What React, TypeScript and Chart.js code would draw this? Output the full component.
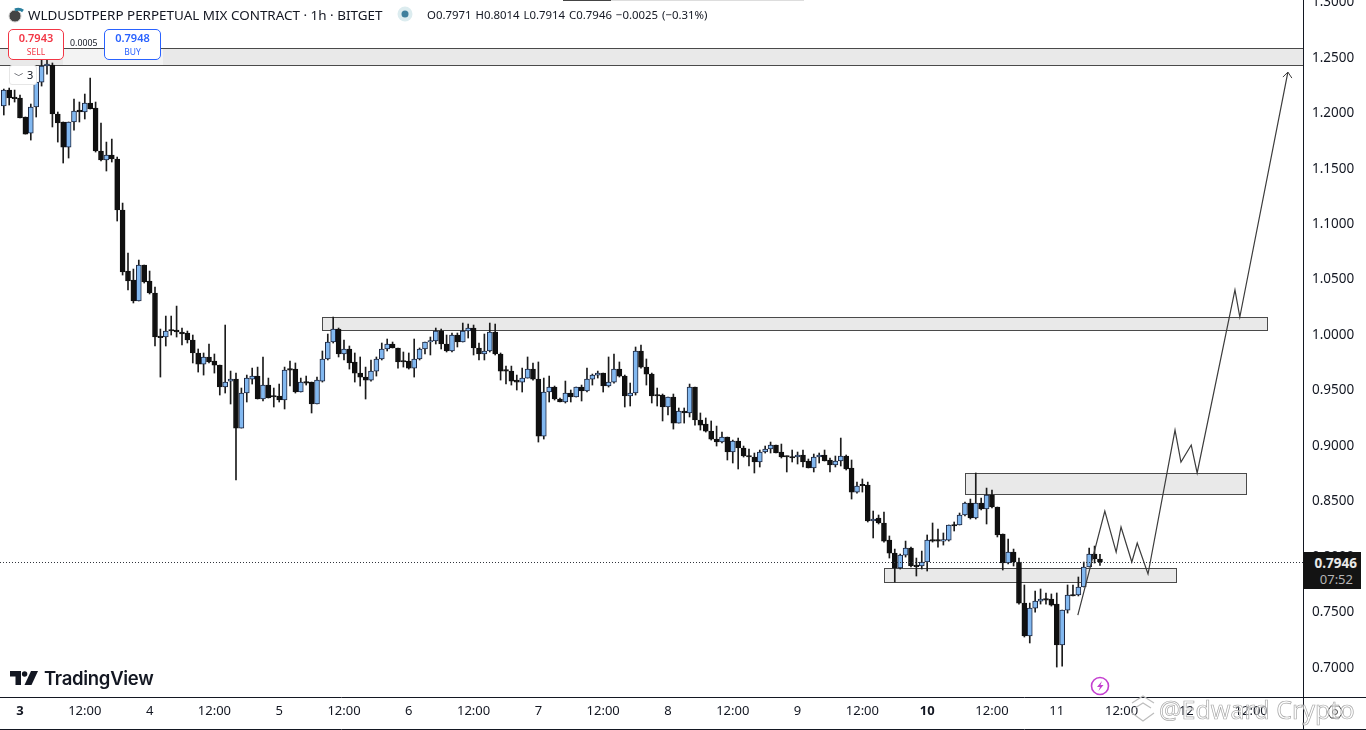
import React, { useEffect, useRef } from "react";
import { Chart, registerables } from "chart.js";

Chart.register(...registerables);

const opens = [
1.2056,1.2200,1.2133,1.2128,1.1957,1.1812,1.2047,1.2272,1.2417,1.2426,
1.1984,1.1912,1.1686,1.1912,1.2020,1.2002,1.2083,1.2038,1.1650,1.1569,
1.1614,1.1578,1.1118,1.0568,1.0487,1.0298,1.0622,1.0478,1.0370,0.9973,
0.9973,1.0036,1.0036,1.0018,1.0009,0.9946,0.9829,0.9729,0.9793,0.9757,
0.9720,0.9522,0.9576,0.9594,0.9152,0.9468,0.9594,0.9621,0.9414,0.9540,
0.9441,0.9441,0.9405,0.9684,0.9684,0.9477,0.9567,0.9567,0.9369,0.9576,
0.9775,0.9928,1.0045,0.9820,0.9865,0.9748,0.9648,0.9612,0.9585,0.9666,
0.9775,0.9865,0.9910,0.9874,0.9757,0.9757,0.9693,0.9775,0.9865,0.9928,
0.9937,1.0027,0.9910,0.9847,0.9991,0.9928,1.0027,1.0054,0.9874,0.9820,
0.9847,1.0018,0.9820,0.9675,0.9666,0.9585,0.9567,0.9603,0.9684,0.9594,
0.9080,0.9477,0.9522,0.9414,0.9387,0.9468,0.9432,0.9522,0.9486,0.9594,
0.9630,0.9648,0.9531,0.9567,0.9684,0.9621,0.9441,0.9468,0.9847,0.9702,
0.9639,0.9450,0.9450,0.9342,0.9432,0.9197,0.9306,0.9288,0.9522,0.9225,
0.9188,0.9125,0.9053,0.9026,0.9071,0.8936,0.9035,0.8972,0.8900,0.8891,
0.8846,0.8936,0.8963,0.8999,0.8936,0.8900,0.8891,0.8891,0.8909,0.8855,
0.8792,0.8891,0.8909,0.8864,0.8819,0.8855,0.8900,0.8792,0.8575,0.8638,
0.8638,0.8314,0.8341,0.8296,0.8142,0.8025,0.7890,0.8007,0.8070,0.7908,
0.7908,0.7944,0.8142,0.8142,0.8133,0.8142,0.8278,0.8278,0.8368,0.8476,
0.8341,0.8476,0.8422,0.8548,0.8440,0.8197,0.7935,0.8034,0.7944,0.7574,
0.7277,0.7529,0.7592,0.7610,0.7610,0.7565,0.7196,0.7511,0.7647,0.7647,
0.7719,0.7899,0.8016,0.7971,
];

const highs = [
1.2209,1.2218,1.2200,1.2155,1.1957,1.2074,1.2290,1.2489,1.2498,1.2444,
1.2002,1.1912,1.1912,1.2119,1.2092,1.2164,1.2308,1.2092,1.1903,1.1731,
1.1758,1.1596,1.1181,1.0730,1.0586,1.0667,1.0622,1.0568,1.0424,1.0045,
1.0162,1.0162,1.0252,1.0054,1.0027,0.9991,0.9865,0.9829,0.9910,0.9820,
0.9720,1.0081,0.9666,0.9648,0.9513,0.9630,0.9693,0.9702,0.9793,0.9603,
0.9513,0.9549,0.9702,0.9757,0.9739,0.9603,0.9621,0.9567,0.9612,0.9847,
1.0000,1.0153,1.0054,0.9946,0.9892,0.9829,0.9793,0.9702,0.9766,0.9793,
0.9919,0.9955,0.9928,0.9874,0.9838,0.9829,0.9955,0.9874,0.9928,0.9973,
1.0054,1.0045,0.9991,1.0009,1.0009,1.0099,1.0090,1.0081,0.9919,1.0000,
1.0099,1.0090,0.9829,0.9711,0.9711,0.9630,0.9693,0.9793,0.9739,0.9748,
0.9603,0.9621,0.9531,0.9423,0.9576,0.9495,0.9522,0.9540,0.9693,0.9639,
0.9666,0.9648,0.9793,0.9820,0.9748,0.9630,0.9558,0.9883,0.9901,0.9775,
0.9648,0.9513,0.9459,0.9432,0.9459,0.9333,0.9333,0.9549,0.9522,0.9288,
0.9243,0.9216,0.9170,0.9116,0.9071,0.9044,0.9062,0.8990,0.8963,0.8927,
0.8954,0.8990,0.9026,0.8999,0.9008,0.8900,0.8954,0.8936,0.8954,0.8873,
0.8918,0.8927,0.8954,0.8882,0.8900,0.9062,0.8909,0.8864,0.8665,0.8693,
0.8665,0.8404,0.8368,0.8395,0.8179,0.8061,0.8016,0.8133,0.8079,0.7980,
0.8043,0.8188,0.8296,0.8242,0.8206,0.8278,0.8305,0.8386,0.8485,0.8512,
0.8747,0.8521,0.8611,0.8593,0.8440,0.8197,0.8152,0.8061,0.7980,0.7737,
0.7574,0.7683,0.7701,0.7665,0.7656,0.7665,0.7511,0.7737,0.7737,0.7809,
0.7944,0.8070,0.8088,0.8014,
];

const lows = [
1.1975,1.2065,1.2092,1.1948,1.1803,1.1749,1.1957,1.2236,1.2344,1.1867,
1.1731,1.1542,1.1587,1.1839,1.1912,1.1939,1.2029,1.1641,1.1560,1.1470,
1.1551,1.1019,1.0532,1.0397,1.0280,1.0298,1.0460,1.0361,0.9892,0.9612,
0.9892,0.9991,0.9973,0.9901,0.9919,0.9739,0.9657,0.9630,0.9739,0.9648,
0.9450,0.9468,0.9369,0.8684,0.9152,0.9387,0.9549,0.9414,0.9396,0.9423,
0.9342,0.9387,0.9324,0.9531,0.9468,0.9477,0.9540,0.9288,0.9369,0.9567,
0.9766,0.9919,0.9793,0.9766,0.9684,0.9567,0.9531,0.9414,0.9576,0.9621,
0.9766,0.9847,0.9874,0.9693,0.9702,0.9684,0.9612,0.9766,0.9820,0.9811,
0.9910,0.9865,0.9838,0.9838,0.9883,0.9928,0.9964,0.9811,0.9766,0.9766,
0.9838,0.9811,0.9585,0.9549,0.9540,0.9495,0.9477,0.9603,0.9585,0.9026,
0.9053,0.9387,0.9405,0.9387,0.9378,0.9387,0.9432,0.9396,0.9477,0.9540,
0.9603,0.9477,0.9522,0.9558,0.9612,0.9342,0.9351,0.9450,0.9693,0.9540,
0.9378,0.9351,0.9216,0.9270,0.9143,0.9197,0.9197,0.9252,0.9179,0.9134,
0.9116,0.9044,0.8990,0.9017,0.8864,0.8837,0.8783,0.8891,0.8810,0.8747,
0.8801,0.8927,0.8927,0.8927,0.8882,0.8756,0.8846,0.8828,0.8801,0.8792,
0.8756,0.8837,0.8855,0.8756,0.8801,0.8810,0.8774,0.8512,0.8566,0.8575,
0.8305,0.8161,0.8287,0.8124,0.7980,0.7764,0.7881,0.7989,0.7899,0.7818,
0.7881,0.7863,0.8124,0.8079,0.8097,0.8133,0.8224,0.8278,0.8359,0.8332,
0.8332,0.8413,0.8287,0.8431,0.8170,0.7872,0.7926,0.7908,0.7565,0.7268,
0.7214,0.7493,0.7565,0.7565,0.7547,0.6997,0.7006,0.7484,0.7638,0.7638,
0.7719,0.7899,0.7935,0.7914,
];

const closes = [
1.2200,1.2128,1.2122,1.1948,1.1803,1.2047,1.2272,1.2417,1.2435,1.1984,
1.1903,1.1686,1.1912,1.2011,1.2002,1.2083,1.2029,1.1650,1.1569,1.1614,
1.1578,1.1118,1.0559,1.0478,1.0298,1.0622,1.0469,1.0370,0.9973,0.9968,
1.0027,1.0027,1.0018,1.0000,0.9946,0.9829,0.9729,0.9793,0.9748,0.9720,
0.9522,0.9567,0.9594,0.9152,0.9468,0.9603,0.9621,0.9414,0.9540,0.9423,
0.9432,0.9405,0.9675,0.9675,0.9477,0.9567,0.9558,0.9369,0.9585,0.9775,
0.9928,1.0045,0.9820,0.9865,0.9739,0.9648,0.9612,0.9585,0.9666,0.9775,
0.9865,0.9910,0.9874,0.9748,0.9748,0.9693,0.9775,0.9865,0.9928,0.9937,
1.0027,0.9910,0.9847,0.9991,0.9928,1.0027,1.0054,0.9874,0.9820,0.9847,
1.0018,0.9820,0.9666,0.9666,0.9576,0.9567,0.9603,0.9684,0.9594,0.9080,
0.9477,0.9522,0.9414,0.9387,0.9468,0.9432,0.9522,0.9486,0.9594,0.9630,
0.9648,0.9531,0.9567,0.9684,0.9621,0.9441,0.9468,0.9847,0.9702,0.9639,
0.9441,0.9441,0.9342,0.9432,0.9197,0.9306,0.9288,0.9522,0.9225,0.9179,
0.9125,0.9053,0.9026,0.9071,0.8936,0.9035,0.8972,0.8900,0.8891,0.8846,
0.8936,0.8963,0.8999,0.8927,0.8891,0.8891,0.8882,0.8909,0.8846,0.8792,
0.8891,0.8909,0.8855,0.8819,0.8855,0.8900,0.8783,0.8575,0.8629,0.8632,
0.8314,0.8332,0.8296,0.8133,0.8025,0.7890,0.8007,0.8070,0.7908,0.7902,
0.7944,0.8142,0.8133,0.8133,0.8142,0.8278,0.8269,0.8368,0.8476,0.8341,
0.8476,0.8422,0.8548,0.8440,0.8188,0.7935,0.8034,0.7944,0.7574,0.7277,
0.7529,0.7592,0.7610,0.7601,0.7556,0.7196,0.7511,0.7647,0.7638,0.7719,
0.7899,0.8016,0.7971,0.7946,
];

const firstHour = -3;
const lastPrice = 0.7946;

const priceTicks = [1.3, 1.25, 1.2, 1.15, 1.1, 1.05, 1.0, 0.95, 0.9, 0.85, 0.8, 0.75, 0.7];
const timeLabels = ["3","12:00","4","12:00","5","12:00","6","12:00","7","12:00","8","12:00","9","12:00","10","12:00","11","12:00","12","12:00"];
const boldTimeLabels = ["3", "10"];

const zoneStart = [-5, 55.9, 175, 160];
const zoneEnd = [237.6, 230.9, 227, 214];
const zoneHigh = [1.2579, 1.0153, 0.8747, 0.789];
const zoneLow = [1.2426, 1.0036, 0.8557, 0.7764];

const pathHours = [195.9, 200.9, 203, 203.9, 205.9, 206.9, 208.9, 213.9, 215, 216.9, 218, 225, 225.9, 234.8];
const pathPrices = [0.7466, 0.8404, 0.8034, 0.826, 0.7944, 0.8115, 0.7836, 0.9134, 0.8846, 0.8999, 0.8747, 1.0397, 1.0153, 1.2362];

const fontFamily = "'Noto Sans', 'Open Sans', sans-serif";
const ink = "#131722";

const hourOf = (i: number) => firstHour + i;

const overlayPlugin = {
  id: "overlay",
  beforeDatasetsDraw(chart: any) {
    const { ctx, scales } = chart;
    const { x, y } = scales;
    ctx.save();
    zoneStart.forEach((s, i) => {
      const l = Math.round(x.getPixelForValue(s)) + 0.5;
      const r = Math.round(x.getPixelForValue(zoneEnd[i])) + 0.5;
      const t = Math.round(y.getPixelForValue(zoneHigh[i])) + 0.5;
      const b = Math.round(y.getPixelForValue(zoneLow[i])) + 0.5;
      ctx.fillStyle = "#e9e9e9";
      ctx.fillRect(l, t, r - l, b - t);
      ctx.strokeStyle = "#4a4a4a";
      ctx.lineWidth = 1;
      ctx.strokeRect(l, t, r - l, b - t);
    });
    ctx.restore();
  },
  afterDatasetsDraw(chart: any) {
    const { ctx, scales, chartArea, width } = chart;
    const { x, y } = scales;
    ctx.save();
    const py = Math.round(y.getPixelForValue(lastPrice)) + 0.5;
    ctx.strokeStyle = "#30343c";
    ctx.lineWidth = 1;
    ctx.setLineDash([1, 2]);
    ctx.beginPath();
    ctx.moveTo(chartArea.left, py);
    ctx.lineTo(chartArea.right, py);
    ctx.stroke();
    ctx.setLineDash([]);

    // arrow head on the last point of the drawn path
    const n = pathHours.length - 1;
    const tx = x.getPixelForValue(pathHours[n]);
    const ty = y.getPixelForValue(pathPrices[n]);
    ctx.strokeStyle = "#3c3c3c";
    ctx.beginPath();
    ctx.moveTo(tx - 5, ty + 5);
    ctx.lineTo(tx, ty);
    ctx.lineTo(tx + 4, ty + 6);
    ctx.stroke();

    // frame lines that run past the plot area
    ctx.strokeStyle = ink;
    ctx.beginPath();
    ctx.moveTo(0, chartArea.bottom + 0.5);
    ctx.lineTo(width, chartArea.bottom + 0.5);
    ctx.moveTo(0, 729.5);
    ctx.lineTo(width, 729.5);
    ctx.moveTo(chartArea.right + 0.5, 0);
    ctx.lineTo(chartArea.right + 0.5, 730);
    ctx.stroke();
    ctx.restore();
  },
};

function Logo() {
  return (
    <svg width="30" height="16" viewBox="0 0 30 16" style={{ position: "absolute", left: 10, top: 670 }}>
      <path d="M0 1 H11 V15 H5.5 V6.5 H0 Z" fill="#131722" />
      <circle cx="14.6" cy="4" r="2.7" fill="#131722" />
      <path d="M21 1 H28 L21.5 15 H14.5 Z" fill="#131722" />
    </svg>
  );
}

export default function App() {
  const ref = useRef<HTMLCanvasElement>(null);
  useEffect(() => {
    document.body.style.margin = "0";
    const canvas = ref.current!;
    const wicks = lows.map((l, i) => ({ x: hourOf(i), y: [l, highs[i]] }));
    const bodies = opens.map((o, i) => ({ x: hourOf(i), y: [Math.min(o, closes[i]), Math.max(o, closes[i])] }));
    const isUp = (i: number) => closes[i] > opens[i];
    const chart = new Chart(canvas, {
      type: "bar",
      plugins: [overlayPlugin],
      data: {
        datasets: [
          {
            type: "line",
            data: pathHours.map((h, i) => ({ x: h, y: pathPrices[i] })),
            borderColor: "#3c3c3c",
            borderWidth: 1.2,
            pointRadius: 0,
            tension: 0,
            order: 0,
          },
          {
            data: bodies,
            grouped: false,
            barThickness: 5,
            minBarLength: 1.5,
            borderWidth: 1,
            borderSkipped: false,
            backgroundColor: (c: any) => (isUp(c.dataIndex) ? "#82b8f0" : "#101010"),
            borderColor: (c: any) => (isUp(c.dataIndex) ? "#1d2740" : "#101010"),
            order: 1,
          },
          {
            data: wicks,
            grouped: false,
            barThickness: 1,
            backgroundColor: "#1c1c1c",
            order: 2,
          },
        ] as any,
      },
      options: {
        animation: false,
        responsive: false,
        maintainAspectRatio: false,
        devicePixelRatio: 1,
        layout: { padding: 0 },
        plugins: { legend: { display: false }, tooltip: { enabled: false } },
        events: [],
        scales: {
          x: {
            type: "linear",
            offset: false,
            min: -3.7037,
            max: 237.6,
            grid: { display: false, drawTicks: false, offset: false },
            border: { display: false },
            afterFit: (s: any) => { s.height = 33; s.paddingLeft = 0; s.paddingRight = 0; },
            afterBuildTicks: (s: any) => { s.ticks = timeLabels.map((_, i) => ({ value: i * 12 })); },
            ticks: {
              autoSkip: false,
              maxRotation: 0,
              padding: 6,
              color: ink,
              font: (c: any) => ({
                family: fontFamily,
                size: 13,
                weight: boldTimeLabels.includes(timeLabels[c.index]) ? "bold" : "normal",
              }),
              callback: (_v: any, i: number) => timeLabels[i],
            },
          },
          y: {
            position: "right",
            min: 0.6727,
            max: 1.3012,
            grid: { display: false, drawTicks: false },
            border: { display: false },
            afterFit: (s: any) => { s.width = 63; s.paddingTop = 0; s.paddingBottom = 0; },
            afterBuildTicks: (s: any) => { s.ticks = priceTicks.map((value) => ({ value })); },
            ticks: {
              autoSkip: false,
              padding: 9,
              labelOffset: 1,
              color: ink,
              font: { family: fontFamily, size: 13.5 },
              callback: (v: any) => Number(v).toFixed(4),
            },
          },
        },
      } as any,
    });
    return () => chart.destroy();
  }, []);

  const txt: React.CSSProperties = { position: "absolute", fontFamily, whiteSpace: "nowrap", color: ink };
  return (
    <div style={{ position: "absolute", left: 0, top: 0, width: 1366, height: 730, overflow: "hidden", background: "#fff" }}>
      <canvas ref={ref} width={1366} height={730} style={{ position: "absolute", left: 0, top: 0, width: 1366, height: 730 }} />

      <div style={{ position: "absolute", left: 563, top: 0, width: 48, height: 1, background: "#444" }} />
      <div style={{ position: "absolute", left: 611, top: 0, width: 193, height: 1, background: "#ddd" }} />

      <svg width="18" height="18" style={{ position: "absolute", left: 7, top: 6 }}>
        <circle cx="8" cy="10" r="6" fill="#444" stroke="#ccc" />
        <path d="M8 4 A8 8 0 0 1 16 5" stroke="#2a7f9e" strokeWidth="3" fill="none" />
      </svg>
      <div style={{ ...txt, left: 28, top: 6, fontSize: 13.45, lineHeight: "18px" }}>WLDUSDTPERP PERPETUAL MIX CONTRACT · 1h · BITGET</div>
      <svg width="18" height="18" style={{ position: "absolute", left: 396, top: 5 }}>
        <circle cx="9" cy="9" r="7.5" fill="#dcecef" />
        <circle cx="9" cy="9" r="3.5" fill="#3f7f9c" />
      </svg>
      <div style={{ ...txt, left: 427, top: 6, fontSize: 11.4, lineHeight: "17px", wordSpacing: 1 }}>O0.7971 H0.8014 L0.7914 C0.7946 −0.0025 (−0.31%)</div>

      <div style={{ position: "absolute", left: 63, top: 49, width: 100, height: 16, background: "#f3f3f3" }} />
      <div style={{ ...txt, left: 70, top: 37, fontSize: 8.8, lineHeight: "12px" }}>0.0005</div>
      <div style={{ ...txt, left: 8, top: 29, width: 54, height: 29, border: "1px solid #f23645", borderRadius: 5, background: "#fff", textAlign: "center", color: "#f23645" }}>
        <div style={{ fontSize: 11, fontWeight: 600, lineHeight: "16px" }}>0.7943</div>
        <div style={{ fontSize: 8.5, lineHeight: "11px" }}>SELL</div>
      </div>
      <div style={{ ...txt, left: 104, top: 29, width: 55, height: 29, border: "1px solid #2962ff", borderRadius: 5, background: "#fff", textAlign: "center", color: "#2962ff" }}>
        <div style={{ fontSize: 11, fontWeight: 600, lineHeight: "16px" }}>0.7948</div>
        <div style={{ fontSize: 8.5, lineHeight: "11px" }}>BUY</div>
      </div>
      <div style={{ ...txt, left: 9, top: 65, width: 26, height: 18, border: "1px solid #e6e6e6", borderRadius: 3, background: "#fff", fontSize: 11, lineHeight: "18px" }}>
        <span style={{ position: "absolute", left: 4, top: 0, fontSize: 10 }}>﹀</span>
        <span style={{ position: "absolute", left: 17, top: 0 }}>3</span>
      </div>

      <Logo />
      <div style={{ ...txt, left: 44, top: 666, fontFamily: "Inter, sans-serif", fontWeight: 600, fontSize: 18.5, lineHeight: "24px", letterSpacing: -0.3 }}>TradingView</div>

      <svg width="22" height="22" style={{ position: "absolute", left: 1089, top: 675 }}>
        <circle cx="11" cy="11" r="8.5" fill="none" stroke="#c43fd0" strokeWidth="1.6" />
        <path d="M13 6 L8 12 H11 L9.5 16 L14.5 10 H11.5 Z" fill="#c43fd0" />
      </svg>

      <div style={{ position: "absolute", left: 1303, top: 552, width: 58, height: 37, background: "#131313" }}>
        <div style={{ ...txt, left: 0, top: 2, width: 54, textAlign: "right", color: "#e8e8e8", fontWeight: 700, fontSize: 13.5, lineHeight: "18px" }}>0.7946</div>
        <div style={{ ...txt, left: 0, top: 19, width: 50, textAlign: "right", color: "#b5b5b5", fontSize: 13, lineHeight: "17px" }}>07:52</div>
      </div>

      <svg width="18" height="18" style={{ position: "absolute", left: 1326, top: 703 }}>
        <path d="M5 3 H13 L17 9 L13 15 H5 L1 9 Z" fill="none" stroke="#444" />
        <circle cx="9" cy="9" r="2.5" fill="none" stroke="#444" />
      </svg>

      <svg width="26" height="30" style={{ position: "absolute", left: 1130, top: 694 }}>
        <path d="M2 9 L13 2 L24 9 M5 14 L13 9 L21 14 M2 19 L13 27 L24 19" fill="none" stroke="#bdbdbd" strokeWidth="1.2" />
      </svg>
      <div style={{ ...txt, left: 1159, top: 692, fontSize: 25, lineHeight: "34px", color: "rgba(255,255,255,0.55)", WebkitTextStroke: "0.7px #a8a8a8" } as any}>@Edward Crypto</div>
    </div>
  );
}
